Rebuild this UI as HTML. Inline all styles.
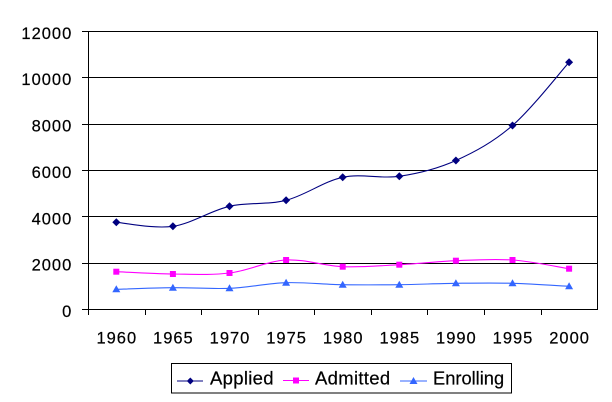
<!DOCTYPE html>
<html>
<head>
<meta charset="utf-8">
<style>
  html, body { margin: 0; padding: 0; background: #ffffff; }
  svg { display: block; }
  text { font-family: "Liberation Sans", Arial, sans-serif; fill: #000; stroke: #000; stroke-width: 0.2; }
</style>
</head>
<body>
<svg width="612" height="402" viewBox="0 0 612 402" xmlns="http://www.w3.org/2000/svg">
  <rect x="0" y="0" width="612" height="402" fill="#ffffff"/>

  <!-- gridlines -->
  <g stroke="#000" stroke-width="1" shape-rendering="crispEdges">
    <line x1="88" y1="31.5" x2="598" y2="31.5"/>
    <line x1="88" y1="77.5" x2="598" y2="77.5"/>
    <line x1="88" y1="124.5" x2="598" y2="124.5"/>
    <line x1="88" y1="170.5" x2="598" y2="170.5"/>
    <line x1="88" y1="216.5" x2="598" y2="216.5"/>
    <line x1="88" y1="263.5" x2="598" y2="263.5"/>
    <line x1="597.5" y1="31" x2="597.5" y2="310"/>
    <line x1="88.5" y1="31" x2="88.5" y2="310"/>
    <line x1="82" y1="309.5" x2="598" y2="309.5"/>
    <line x1="82" y1="31.5" x2="88" y2="31.5"/>
    <line x1="82" y1="77.5" x2="88" y2="77.5"/>
    <line x1="82" y1="124.5" x2="88" y2="124.5"/>
    <line x1="82" y1="170.5" x2="88" y2="170.5"/>
    <line x1="82" y1="216.5" x2="88" y2="216.5"/>
    <line x1="82" y1="263.5" x2="88" y2="263.5"/>
    <line x1="88.5" y1="309" x2="88.5" y2="315"/>
    <line x1="145.5" y1="309" x2="145.5" y2="315"/>
    <line x1="201.5" y1="309" x2="201.5" y2="315"/>
    <line x1="258.5" y1="309" x2="258.5" y2="315"/>
    <line x1="314.5" y1="309" x2="314.5" y2="315"/>
    <line x1="371.5" y1="309" x2="371.5" y2="315"/>
    <line x1="427.5" y1="309" x2="427.5" y2="315"/>
    <line x1="484.5" y1="309" x2="484.5" y2="315"/>
    <line x1="541.5" y1="309" x2="541.5" y2="315"/>
  </g>

  <!-- y labels -->
  <g font-size="16.5" text-anchor="end" letter-spacing="1">
    <text x="72.3" y="39">12000</text>
    <text x="72.3" y="85">10000</text>
    <text x="72.3" y="131.6">8000</text>
    <text x="72.3" y="178">6000</text>
    <text x="72.3" y="224.3">4000</text>
    <text x="72.3" y="270.7">2000</text>
    <text x="72.3" y="317">0</text>
  </g>

  <!-- x labels -->
  <g font-size="16.5" text-anchor="middle" letter-spacing="1">
    <text x="116.8" y="343.7">1960</text>
    <text x="173.4" y="343.7">1965</text>
    <text x="230" y="343.7">1970</text>
    <text x="286.6" y="343.7">1975</text>
    <text x="343.2" y="343.7">1980</text>
    <text x="399.8" y="343.7">1985</text>
    <text x="456.4" y="343.7">1990</text>
    <text x="513" y="343.7">1995</text>
    <text x="569.6" y="343.7">2000</text>
  </g>

  <!-- Applied -->
  <path fill="none" stroke="#000080" stroke-width="1.1" d="M116.3,222.3
    C125.7,223.0 154.0,229.0 172.9,226.3
    C191.8,223.6 210.6,210.6 229.5,206.3
    C248.4,202.0 267.2,205.1 286.1,200.3
    C305.0,195.5 323.8,181.3 342.7,177.3
    C361.6,173.3 380.4,179.1 399.3,176.3
    C418.2,173.5 437.0,169.0 455.9,160.5
    C474.8,152.0 493.6,141.9 512.5,125.5
    C531.4,109.1 559.7,72.8 569.1,62.3"/>
  <g fill="#000080">
    <path d="M116.3,218.3 l4,4 l-4,4 l-4,-4z"/>
    <path d="M172.9,222.3 l4,4 l-4,4 l-4,-4z"/>
    <path d="M229.5,202.3 l4,4 l-4,4 l-4,-4z"/>
    <path d="M286.1,196.3 l4,4 l-4,4 l-4,-4z"/>
    <path d="M342.7,173.3 l4,4 l-4,4 l-4,-4z"/>
    <path d="M399.3,172.3 l4,4 l-4,4 l-4,-4z"/>
    <path d="M455.9,156.5 l4,4 l-4,4 l-4,-4z"/>
    <path d="M512.5,121.5 l4,4 l-4,4 l-4,-4z"/>
    <path d="M569.1,58.3 l4,4 l-4,4 l-4,-4z"/>
  </g>

  <!-- Admitted -->
  <path fill="none" stroke="#FF00FF" stroke-width="1.1" d="M116.3,271.7
    C125.7,272.1 154.0,273.8 172.9,274.0
    C191.8,274.2 210.6,275.3 229.5,273.0
    C248.4,270.7 267.2,261.1 286.1,260.0
    C305.0,259.0 323.8,265.9 342.7,266.7
    C361.6,267.5 380.4,265.7 399.3,264.7
    C418.2,263.7 437.0,261.5 455.9,260.7
    C474.8,259.9 493.6,258.7 512.5,260.0
    C531.4,261.3 559.7,267.3 569.1,268.7"/>
  <g fill="#FF00FF">
    <rect x="113.3" y="268.7" width="6" height="6"/>
    <rect x="169.9" y="271" width="6" height="6"/>
    <rect x="226.5" y="270" width="6" height="6"/>
    <rect x="283.1" y="257" width="6" height="6"/>
    <rect x="339.7" y="263.7" width="6" height="6"/>
    <rect x="396.3" y="261.7" width="6" height="6"/>
    <rect x="452.9" y="257.7" width="6" height="6"/>
    <rect x="509.5" y="257" width="6" height="6"/>
    <rect x="566.1" y="265.7" width="6" height="6"/>
  </g>

  <!-- Enrolling -->
  <path fill="none" stroke="#3366FF" stroke-width="1.1" d="M116.3,289.3
    C125.7,289.0 154.0,287.9 172.9,287.7
    C191.8,287.5 210.6,289.1 229.5,288.3
    C248.4,287.5 267.2,283.3 286.1,282.7
    C305.0,282.1 323.8,284.4 342.7,284.7
    C361.6,285.0 380.4,284.9 399.3,284.7
    C418.2,284.5 437.0,283.5 455.9,283.3
    C474.8,283.1 493.6,282.8 512.5,283.3
    C531.4,283.8 559.7,285.8 569.1,286.3"/>
  <g fill="#3366FF">
    <path d="M116.3,285.3 l4,7 l-8,0z"/>
    <path d="M172.9,283.7 l4,7 l-8,0z"/>
    <path d="M229.5,284.3 l4,7 l-8,0z"/>
    <path d="M286.1,278.7 l4,7 l-8,0z"/>
    <path d="M342.7,280.7 l4,7 l-8,0z"/>
    <path d="M399.3,280.7 l4,7 l-8,0z"/>
    <path d="M455.9,279.3 l4,7 l-8,0z"/>
    <path d="M512.5,279.3 l4,7 l-8,0z"/>
    <path d="M569.1,282.3 l4,7 l-8,0z"/>
  </g>

  <!-- Legend -->
  <rect x="171.5" y="363.5" width="340" height="29.5" fill="#fff" stroke="#000" stroke-width="1" shape-rendering="crispEdges"/>
  <line x1="177" y1="381" x2="203" y2="381" stroke="#000080" stroke-width="1.1"/>
  <path d="M190.3,377.5 l3.5,3.5 l-3.5,3.5 l-3.5,-3.5z" fill="#000080"/>
  <text x="210" y="384.7" font-size="18.5" letter-spacing="0.3">Applied</text>

  <line x1="283" y1="380.5" x2="309" y2="380.5" stroke="#FF00FF" stroke-width="1.1"/>
  <rect x="293" y="377.5" width="6" height="6" fill="#FF00FF"/>
  <text x="315" y="384.7" font-size="18.5" letter-spacing="0.3">Admitted</text>

  <line x1="400" y1="381" x2="427" y2="381" stroke="#3366FF" stroke-width="1.1"/>
  <path d="M413.5,377 l4,7 l-8,0z" fill="#3366FF"/>
  <text x="433" y="384.7" font-size="18.3">Enrolling</text>
</svg>
</body>
</html>
